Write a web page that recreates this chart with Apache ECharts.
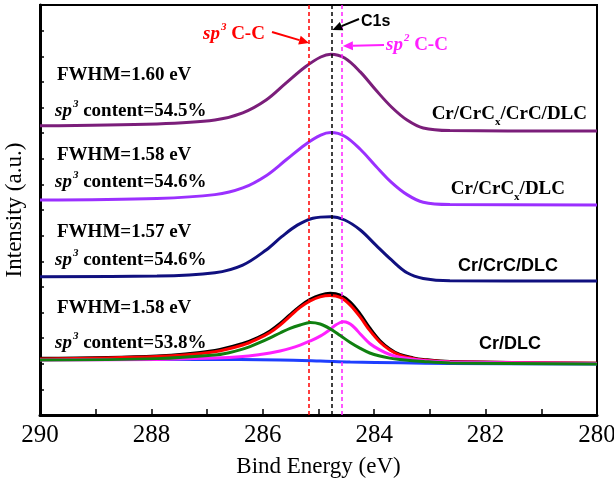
<!DOCTYPE html>
<html>
<head>
<meta charset="utf-8">
<script src="https://cdn.jsdelivr.net/npm/echarts@6/dist/echarts.min.js"></script>
<style>
  html, body { margin: 0; padding: 0; background: #fff; }
  #chart { width: 614px; height: 484px; }
</style>
</head>
<body>
<div id="chart"></div>
<script>
// C1s XPS spectra of the four coatings (intensity offset per coating)
const xTicks = [290, 288, 286, 284, 282, 280];

const energyTop = [290, 287.9, 286.86, 286.36, 285.94, 285.58, 285.24, 284.96, 284.78, 284.53, 284.25, 283.97, 283.69, 283.41, 283.12, 282.64, 280];
const crCrCxCrCDlc = [11.29, 11.36, 11.51, 11.79, 12.29, 12.96, 13.58, 13.97, 14.08, 13.93, 13.39, 12.68, 12.02, 11.51, 11.20, 11.10, 11.08];
const crCrCxDlc = [8.39, 8.45, 8.60, 8.86, 9.34, 9.96, 10.55, 10.92, 11.02, 10.88, 10.37, 9.71, 9.08, 8.60, 8.30, 8.21, 8.20];

const energyMid = [290, 287.9, 286.86, 286.36, 285.94, 285.66, 285.38, 285.1, 284.78, 284.53, 284.25, 283.97, 283.69, 283.41, 283.12, 282.64, 280];
const crCrCDlc = [5.40, 5.42, 5.55, 5.85, 6.44, 6.96, 7.41, 7.68, 7.74, 7.61, 7.22, 6.63, 6.05, 5.55, 5.33, 5.24, 5.23];

// Cr/DLC: measured spectrum, fitted envelope, components and background
const energyFit = [290, 287.9, 286.86, 286.36, 286.09, 285.87, 285.69, 285.51, 285.33, 285.15, 284.97, 284.79, 284.61, 284.43, 284.25, 284.08, 283.9, 283.72, 283.54, 283.3, 283.12, 282.64, 280];
const crDlcRaw = [2.21, 2.30, 2.52, 2.79, 3.02, 3.28, 3.57, 3.92, 4.25, 4.51, 4.68, 4.75, 4.68, 4.41, 3.94, 3.40, 2.91, 2.58, 2.36, 2.23, 2.17, 2.09, 2.02];
const crDlcFit = [2.19, 2.28, 2.47, 2.73, 2.97, 3.22, 3.51, 3.86, 4.20, 4.45, 4.61, 4.66, 4.59, 4.29, 3.82, 3.30, 2.85, 2.54, 2.34, 2.21, 2.15, 2.08, 2.02];

const energySp3 = [290, 287.9, 286.86, 286.59, 286.41, 286.23, 286.05, 285.87, 285.69, 285.51, 285.33, 285.15, 284.97, 284.79, 284.61, 284.43, 284.25, 284.08, 283.9, 283.72, 283.54, 283.12, 282.64, 280];
const sp3Component = [2.15, 2.20, 2.34, 2.44, 2.54, 2.67, 2.83, 3.01, 3.20, 3.38, 3.51, 3.61, 3.55, 3.36, 3.10, 2.83, 2.60, 2.42, 2.30, 2.22, 2.17, 2.09, 2.03, 1.99];

const energySp2 = [290, 287.9, 286.86, 286.36, 286.05, 285.87, 285.69, 285.51, 285.33, 285.15, 284.97, 284.79, 284.70, 284.61, 284.56, 284.51, 284.43, 284.34, 284.25, 284.08, 283.9, 283.72, 283.54, 283.12, 282.64, 280];
const sp2Component = [2.15, 2.17, 2.22, 2.28, 2.36, 2.42, 2.50, 2.60, 2.73, 2.89, 3.08, 3.34, 3.50, 3.61, 3.64, 3.63, 3.55, 3.38, 3.16, 2.79, 2.54, 2.36, 2.25, 2.13, 2.07, 2.01];

const energyBg = [290, 287.13, 285.69, 284.97, 284.43, 283.54, 282.64, 280];
const background = [2.19, 2.17, 2.15, 2.11, 2.07, 2.04, 2.01, 1.99];

// Peak positions marked by dashed lines
const sp3Position = 285.17;
const c1sPosition = 284.77;
const sp2Position = 284.58;

const fwhmLabels = ['FWHM=1.60 eV', 'FWHM=1.58 eV', 'FWHM=1.57 eV', 'FWHM=1.58 eV'];
const sp3Contents = ['54.5%', '54.6%', '54.6%', '53.8%'];

const zip = (xs, ys) => xs.map((x, i) => [x, ys[i]]);
const serif = 'Liberation Serif, Times New Roman, serif';
const sans = 'Liberation Sans, Arial, sans-serif';

function curve(name, xs, ys, color, z) {
  return {
    name, type: 'line', data: zip(xs, ys), smooth: 0.35, symbol: 'none',
    lineStyle: { color, width: 3 }, z: z || 2, animation: false, silent: true
  };
}

const chart = echarts.init(document.getElementById('chart'), null, { renderer: 'canvas' });

const option = {
  backgroundColor: '#fff',
  animation: false,
  grid: {
    left: 40, right: 17, top: 5, bottom: 69, containLabel: false, outerBoundsMode: 'none',
    show: true, borderColor: '#000', borderWidth: 2, backgroundColor: 'transparent'
  },
  xAxis: {
    type: 'value', inverse: true, min: 280, max: 290, interval: 2,
    name: 'Bind Energy (eV)', nameLocation: 'middle', nameGap: 40,
    nameTextStyle: { fontFamily: serif, fontSize: 23, color: '#000' },
    axisLine: { show: true, onZero: false, lineStyle: { color: '#000', width: 3 } },
    axisTick: { show: true, inside: true, length: 6, lineStyle: { color: '#000', width: 1.5 } },
    minorTick: { show: true, splitNumber: 2, length: 6, lineStyle: { color: '#000', width: 1.5 } },
    axisLabel: { fontFamily: serif, fontSize: 25, color: '#000', margin: 8, customValues: xTicks },
    splitLine: { show: false }
  },
  yAxis: {
    type: 'value', min: 0, max: 16, interval: 1,
    name: 'Intensity (a.u.)', nameLocation: 'middle', nameGap: 14,
    nameTextStyle: { fontFamily: serif, fontSize: 23, color: '#000' },
    axisLine: { show: true, lineStyle: { color: '#000', width: 3 } },
    axisTick: { show: true, inside: true, length: 4, lineStyle: { color: '#000', width: 1.5 } },
    axisLabel: { show: false },
    splitLine: { show: false }
  },
  series: [
    curve('Cr/CrCx/CrC/DLC', energyTop, crCrCxCrCDlc, '#7b1e7a'),
    curve('Cr/CrCx/DLC', energyTop, crCrCxDlc, '#9b30ff'),
    curve('Cr/CrC/DLC', energyMid, crCrCDlc, '#10107f'),
    curve('background', energyBg, background, '#1f3fff', 2),
    curve('measured', energyFit, crDlcRaw, '#000000', 3),
    curve('fit', energyFit, crDlcFit, '#ff0000', 4),
    curve('sp2 C-C', energySp2, sp2Component, '#ff20ff', 5),
    curve('sp3 C-C', energySp3, sp3Component, '#108010', 6),
    {
      name: 'positions', type: 'line', data: [], z: 10, animation: false, silent: true,
      markLine: {
        silent: true, symbol: ['none', 'none'], animation: false,
        label: { show: false },
        data: [
          { xAxis: sp3Position, lineStyle: { color: '#ff0000', type: [4, 3], width: 1.5 } },
          { xAxis: c1sPosition, lineStyle: { color: '#000000', type: [4, 3], width: 1.5 } },
          { xAxis: sp2Position, lineStyle: { color: '#ff20ff', type: [4, 3], width: 1.5 } }
        ]
      }
    }
  ]
};
chart.setOption(option);

function arrow(x1, y1, x2, y2, color) {
  const a = Math.atan2(y2 - y1, x2 - x1);
  const L = 10, W = 4.5;
  const c = Math.cos(a), s = Math.sin(a);
  const bx = x2 - L * c, by = y2 - L * s;
  return [
    { type: 'line', silent: true, z: 20, shape: { x1, y1, x2: bx, y2: by }, style: { stroke: color, lineWidth: 2 } },
    { type: 'polygon', silent: true, z: 20, shape: { points: [[x2, y2], [bx - W * s, by + W * c], [bx + W * s, by - W * c]] }, style: { fill: color } }
  ];
}

function label(x, y, text, opts) {
  return {
    type: 'text', silent: true, z: 20, x, y,
    style: Object.assign({
      text, fill: '#000', fontFamily: serif, fontWeight: 'bold', fontSize: 19,
      align: 'left', verticalAlign: 'middle'
    }, opts || {})
  };
}

const supRich = color => ({
  i: { fontFamily: serif, fontWeight: 'bold', fontStyle: 'italic', fontSize: 19, fill: color },
  s: { fontFamily: serif, fontWeight: 'bold', fontStyle: 'italic', fontSize: 11, fill: color, padding: [0, 0, 14, 1] },
  b: { fontFamily: serif, fontWeight: 'bold', fontSize: 19, fill: color }
});
const subRich = {
  b: { fontFamily: serif, fontWeight: 'bold', fontSize: 19, fill: '#000' },
  x: { fontFamily: serif, fontWeight: 'bold', fontSize: 11, fill: '#000', padding: [16, 0, 0, 0] }
};

const xSp3 = chart.convertToPixel({ xAxisIndex: 0 }, sp3Position);
const xC1s = chart.convertToPixel({ xAxisIndex: 0 }, c1sPosition);
const xSp2 = chart.convertToPixel({ xAxisIndex: 0 }, sp2Position);

const fwhmY = [75, 155, 232, 308];
const sp3Y = [111, 182, 260, 343];
const elements = [];
fwhmLabels.forEach((t, k) => elements.push(label(57, fwhmY[k], t)));
sp3Contents.forEach((t, k) => elements.push(label(55, sp3Y[k], '{i|sp}{s|3}{b| content=' + t + '}', { rich: supRich('#000') })));

elements.push(label(587, 114, '{b|Cr/CrC}{x|x}{b|/CrC/DLC}', { align: 'right', rich: subRich }));
elements.push(label(565, 189, '{b|Cr/CrC}{x|x}{b|/DLC}', { align: 'right', rich: subRich }));
elements.push(label(508, 266, 'Cr/CrC/DLC', { align: 'center', fontFamily: sans, fontSize: 18 }));
elements.push(label(510, 344, 'Cr/DLC', { align: 'center', fontFamily: sans, fontSize: 18 }));

elements.push(label(203, 34, '{i|sp}{s|3}{b| C-C}', { rich: supRich('#ff0000') }));
elements.push(label(386, 45, '{i|sp}{s|2}{b| C-C}', { rich: supRich('#ff20ff') }));
elements.push(label(361, 22, 'C1s', { fontFamily: sans, fontSize: 16 }));

elements.push(...arrow(272, 32, xSp3, 43, '#ff0000'));
elements.push(...arrow(359, 19, xC1s + 1, 30, '#000000'));
elements.push(...arrow(384, 45, xSp2 + 1, 46, '#ff20ff'));

chart.setOption({ graphic: { elements } });
</script>
</body>
</html>
